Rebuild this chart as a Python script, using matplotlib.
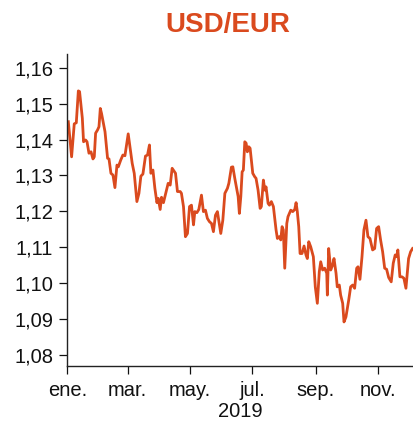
import numpy as np
import matplotlib
matplotlib.use("Agg")
import matplotlib.pyplot as plt
import matplotlib.dates as mdates

# Day offsets from 2019-01-01 and USD/EUR rate
days = [1.0, 4.2, 6.8, 8.8, 10.8, 12.0, 14.7, 15.9, 17.9, 19.3, 21.2, 23.2, 25.1, 26.4, 27.7,
        29.6, 31.0, 32.3, 33.5, 36.9, 39.4, 40.8, 42.7, 44.7, 46.6, 48.6, 49.9, 52.3, 54.4,
        56.4, 59.6, 63.5, 65.5, 68.1, 70.1, 72.0, 74.0, 76.5, 78.5, 80.4, 81.8, 83.8, 85.7,
        87.7, 89.0, 90.9, 92.2, 94.1, 96.8, 98.7, 100.7, 102.6, 105.9, 107.8, 110.5, 111.7,
        113.7, 115.6, 117.6, 119.6, 121.5, 123.5, 124.8, 126.8, 128.7, 131.3, 133.2, 135.2,
        137.1, 139.1, 141.1, 143.0, 145.0, 146.9, 150.2, 152.2, 154.2, 156.7, 158.1, 160.6,
        162.0, 163.9, 167.2, 168.4, 169.8, 171.1, 172.3, 173.7, 175.0, 176.2, 177.6, 178.9,
        181.5, 183.5, 184.7, 186.7, 188.7, 189.9, 191.9, 193.3, 194.5, 196.5, 197.8, 199.7,
        201.7, 204.3, 205.6, 207.5, 208.9, 210.2, 211.4, 212.8, 214.8, 216.0, 218.7, 220.6,
        222.6, 223.9, 225.1, 226.5, 227.8, 229.7, 231.7, 233.6, 234.9, 236.3, 238.2, 240.8,
        242.7, 244.7, 246.6, 248.0, 249.9, 251.9, 253.9, 254.5, 255.8, 257.8, 259.7, 261.0,
        263.0, 264.2, 266.2, 267.5, 269.5, 270.8, 272.7, 275.4, 277.3, 279.3, 281.2, 283.2,
        284.5, 286.4, 288.4, 290.3, 292.3, 294.2, 296.2, 298.8, 300.8, 302.7, 304.7, 306.6,
        308.6, 310.6, 312.5, 314.5, 317.0, 319.0, 320.9, 322.3, 323.5, 325.5, 327.5, 329.4,
        331.4, 334.0, 336.0, 337.9]
rates = [1.1450, 1.1352, 1.1444, 1.1447, 1.1536, 1.1534, 1.1460, 1.1394, 1.1399, 1.1394,
         1.1362, 1.1366, 1.1346, 1.1352, 1.1418, 1.1427, 1.1436, 1.1487, 1.1473, 1.1422,
         1.1348, 1.1346, 1.1306, 1.1301, 1.1266, 1.1329, 1.1324, 1.1343, 1.1357, 1.1355,
         1.1416, 1.1334, 1.1306, 1.1227, 1.1250, 1.1298, 1.1304, 1.1354, 1.1357, 1.1385,
         1.1306, 1.1315, 1.1264, 1.1224, 1.1236, 1.1205, 1.1239, 1.1224, 1.1255, 1.1278,
         1.1273, 1.1320, 1.1306, 1.1255, 1.1255, 1.1250, 1.1213, 1.1129, 1.1138, 1.1213,
         1.1217, 1.1162, 1.1199, 1.1196, 1.1205, 1.1245, 1.1199, 1.1203, 1.1180, 1.1171,
         1.1166, 1.1143, 1.1189, 1.1199, 1.1138, 1.1175, 1.1250, 1.1264, 1.1278, 1.1323,
         1.1324, 1.1292, 1.1241, 1.1194, 1.1241, 1.1310, 1.1315, 1.1394, 1.1390, 1.1366,
         1.1380, 1.1376, 1.1306, 1.1296, 1.1292, 1.1259, 1.1208, 1.1213, 1.1287, 1.1259,
         1.1268, 1.1222, 1.1217, 1.1227, 1.1213, 1.1148, 1.1124, 1.1129, 1.1120, 1.1157,
         1.1148, 1.1041, 1.1166, 1.1185, 1.1203, 1.1199, 1.1205, 1.1224, 1.1199, 1.1157,
         1.1082, 1.1082, 1.1103, 1.1078, 1.1068, 1.1115, 1.1101, 1.1073, 1.0989, 1.0943,
         1.1031, 1.1059, 1.1036, 1.1041, 1.1027, 1.0966, 1.1096, 1.1036, 1.1050, 1.1068,
         1.1027, 1.0989, 1.0994, 1.0966, 1.0943, 1.0891, 1.0905, 1.0952, 1.0989, 1.0994,
         1.0985, 1.1041, 1.1045, 1.1010, 1.1073, 1.1148, 1.1175, 1.1129, 1.1124, 1.1092,
         1.1096, 1.1152, 1.1157, 1.1120, 1.1087, 1.1041, 1.1038, 1.1015, 1.1003, 1.1055,
         1.1078, 1.1073, 1.1092, 1.1017, 1.1017, 1.1013, 1.0985, 1.1068, 1.1087, 1.1096]

yticks = [1.08, 1.09, 1.10, 1.11, 1.12, 1.13, 1.14, 1.15, 1.16]
ytick_labels = ["1,08", "1,09", "1,10", "1,11", "1,12", "1,13", "1,14", "1,15", "1,16"]
xtick_dates = ["2019-01-01", "2019-03-01", "2019-05-01", "2019-07-01", "2019-09-01", "2019-11-01"]
xtick_labels = ["ene.", "mar.", "may.", "jul.", "sep.", "nov."]
title = "USD/EUR"
xlabel = "2019"

color = "#DA4A1E"
plt.rcParams['font.family'] = ['Liberation Sans', 'DejaVu Sans']

fig = plt.figure(figsize=(4.14, 4.23), dpi=100)
ax = fig.add_axes([67/414, 1 - 366/423, 1 - 67/414, (366 - 54)/423])

base = mdates.date2num(np.datetime64("2019-01-01"))
x = base + np.array(days)
ax.plot(x, rates, color=color, lw=2.0, solid_joinstyle='round')

ax.set_xlim(base - 0.3, base + 339.3)
ax.set_ylim(1.0768, 1.1639)

ax.set_yticks(yticks)
ax.set_yticklabels(ytick_labels)
ax.set_xticks([mdates.date2num(np.datetime64(d)) for d in xtick_dates])
ax.set_xticklabels(xtick_labels)
ax.set_xlabel(xlabel, fontsize=14.5, labelpad=1.5, color="#111111")

for s in ["top", "right"]:
    ax.spines[s].set_visible(False)
for s in ["left", "bottom"]:
    ax.spines[s].set_color("#222222")
    ax.spines[s].set_linewidth(1.0)
ax.tick_params(axis="both", labelsize=14.5, colors="#111111", length=6, width=0.9, pad=4)
ax.tick_params(axis="x", pad=5)

fig.text(228/414, 1 - 25/423, title, ha="center", va="center", fontsize=20,
         fontweight="bold", color=color)

fig.savefig("out.png", dpi=100)
